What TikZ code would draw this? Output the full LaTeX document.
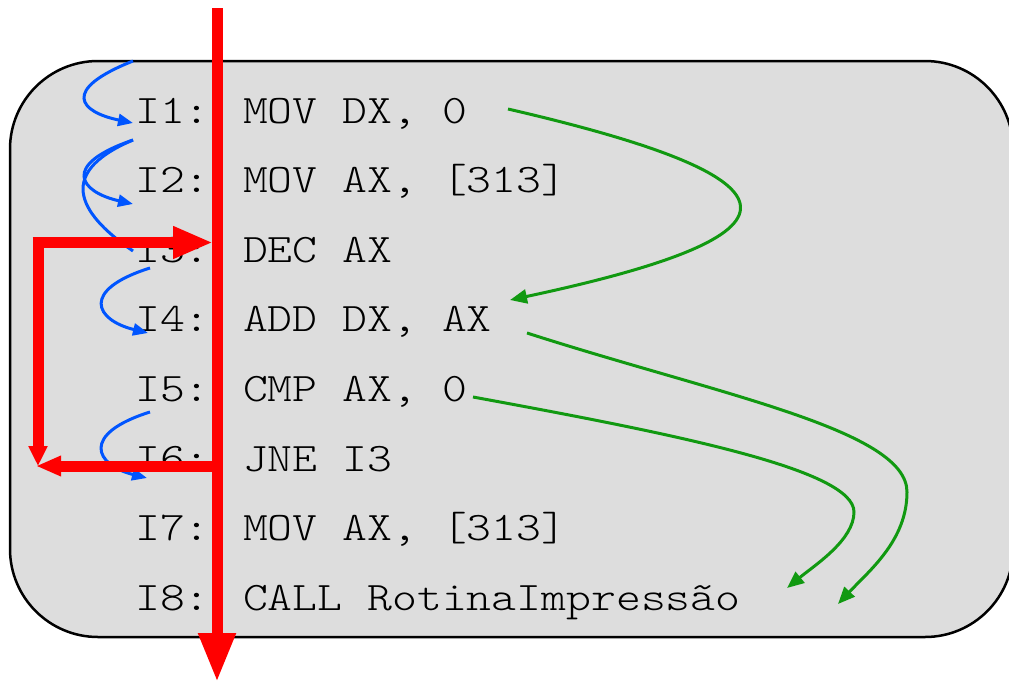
\documentclass[tikz,border=0pt]{standalone}
\usepackage{fontspec}
\newfontfamily\codefont{Latin Modern Mono Light}[FakeStretch=1.17]
\usetikzlibrary{arrows.meta}
\definecolor{boxgray}{RGB}{221,221,221}
\definecolor{flowblue}{RGB}{0,85,255}
\definecolor{flowgreen}{RGB}{17,153,17}
\definecolor{flowred}{RGB}{255,0,0}
\begin{document}
\begin{tikzpicture}[x=1pt,y=-1pt,
  code/.style={anchor=base west,inner sep=0pt,text=black,font=\codefont\fontsize{40.5}{50}\selectfont},
  bluearrow/.style={draw=flowblue,line width=3pt,-{Triangle[length=15pt,width=12pt]}},
  blueline/.style={draw=flowblue,line width=3pt},
  greenarrow/.style={draw=flowgreen,line width=3pt,-{Triangle[length=17pt,width=14pt]}},
  redline/.style={draw=flowred,line width=11pt},
]
\useasboundingbox (0,0) rectangle (1009,683);
\clip (0,0) rectangle (1009,683);
% box
\draw[fill=boxgray,line width=2.5pt,rounded corners=88pt] (10,61) rectangle (1013,637);
% code lines
\node[code] (l1) at (135,123) {I1: MOV DX, 0};
\node[code] (l2) at (135,192.6) {I2: MOV AX, [313]};
\node[code] (l3) at (135,262.2) {I3: DEC AX};
\node[code] (l4) at (135,331.8) {I4: ADD DX, AX};
\node[code] (l5) at (135,401.4) {I5: CMP AX, 0};
\node[code] (l6) at (135,471) {I6: JNE I3};
\node[code] (l7) at (135,540.6) {I7: MOV AX, [313]};
\node[code] (l8) at (135,610.2) {I8: CALL RotinaImpressão};
% coordinates
\coordinate (b1s) at (133,61);
\coordinate (b1e) at (133,123);
\coordinate (b2s) at (133,140);
\coordinate (b2e) at (133,204);
\coordinate (b3e) at (133,251);
\coordinate (b4s) at (150,268);
\coordinate (b4e) at (148,333);
\coordinate (b5s) at (150,412);
\coordinate (b5e) at (147,478);
\coordinate (g1s) at (508,109);
\coordinate (g1e) at (510,300);
\coordinate (g2s) at (527,333);
\coordinate (g2m) at (907,492);
\coordinate (g2e) at (838,604);
\coordinate (g3s) at (473,397);
\coordinate (g3m) at (854,512);
\coordinate (g3e) at (787,588);
\coordinate (rtop) at (217,8);
\coordinate (rbot) at (217,682);
\coordinate (rj3) at (213,242.5);
\coordinate (rj6) at (217,466);
\coordinate (rc1) at (38,242.5);
\coordinate (rc2) at (38,466);
\coordinate (rc2b) at (36,466);
% blue flow
\draw[bluearrow] (b1s) .. controls (60,90) and (80,112) .. (b1e);
\draw[bluearrow] (b2s) .. controls (60,165) and (80,192) .. (b2e);
\draw[blueline] (b2s) .. controls (50,175) and (85,218) .. (b3e);
\draw[bluearrow] (b4s) .. controls (80,290) and (95,320) .. (b4e);
\draw[bluearrow] (b5s) .. controls (80,434) and (95,465) .. (b5e);
% green flow
\draw[greenarrow] (g1s) .. controls (815,180) and (815,235) .. (g1e);
\draw[greenarrow] (g2s) .. controls (720,395) and (907,430) .. (g2m) .. controls (907,540) and (870,570) .. (g2e);
\draw[greenarrow] (g3s) .. controls (680,435) and (854,470) .. (g3m) .. controls (854,540) and (815,565) .. (g3e);
% red flow
\draw[redline,-{Triangle[length=20pt,width=18pt]}] ([yshift=5.5pt]rc1) -- (rc2);
\draw[redline,-{Triangle[length=25pt,width=19pt]}] (rj6) -- (rc2b);
\draw[redline,-{Triangle[length=40pt,width=30pt]}] ([xshift=-5.5pt]rc1) -- (rj3);
\draw[redline,-{Triangle[length=49pt,width=35pt]}] (rtop) -- (rbot);
\end{tikzpicture}
\end{document}
